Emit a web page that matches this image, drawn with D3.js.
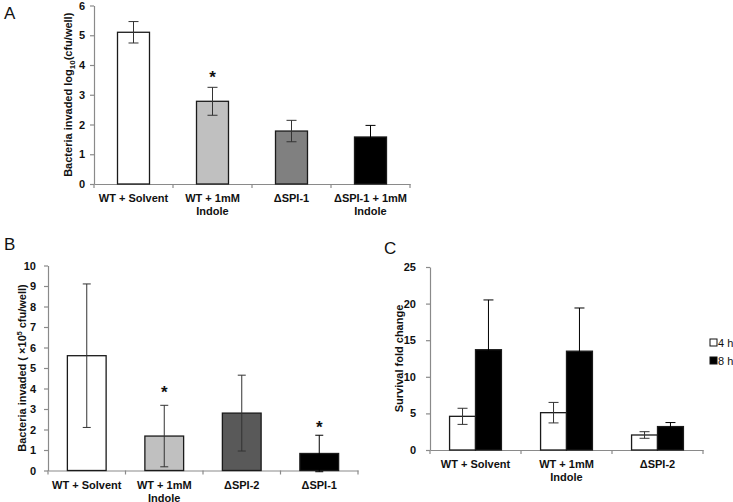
<!DOCTYPE html>
<html><head><meta charset="utf-8">
<script src="https://cdn.jsdelivr.net/npm/d3@7"></script>
<style>
html,body{margin:0;padding:0;background:#fff;}
svg{display:block;font-family:"Liberation Sans",Arial,sans-serif;}
</style></head>
<body>
<svg id="chart" width="733" height="502"></svg>
<script>
// ---- Panel A data ----
const catsA = ["WT + Solvent", "WT + 1mM\nIndole", "ΔSPI-1", "ΔSPI-1 + 1mM\nIndole"];
const valsA = [5.1, 2.78, 1.78, 1.58];
const errA = [0.36, 0.47, 0.36, 0.39];
const starA = [null, 3.4, null, null];   // height of significance asterisk
const ticksA = [0, 1, 2, 3, 4, 5, 6];

// ---- Panel B data ----
const catsB = ["WT + Solvent", "WT + 1mM\nIndole", "ΔSPI-2", "ΔSPI-1"];
const valsB = [5.6, 1.68, 2.8, 0.83];
const errB = [3.5, 1.5, 1.85, 0.89];
const starB = [null, 3.55, null, 1.85];
const ticksB = [0, 1, 2, 3, 4, 5, 6, 7, 8, 9, 10];

// ---- Panel C data ----
const catsC = ["WT + Solvent", "WT + 1mM\nIndole", "ΔSPI-2"];
const seriesC = ["4 h", "8 h"];
const vals4h = [4.6, 5.1, 2.05];
const err4h = [1.1, 1.4, 0.45];
const vals8h = [13.7, 13.5, 3.2];
const err8h = [6.8, 5.9, 0.55];
const ticksC = [0, 5, 10, 15, 20, 25];

const svg = d3.select("#chart");
const axisColor = "#8a8a8a";

function styleAxis(g) {
  g.selectAll("path.domain").attr("stroke", axisColor).attr("stroke-width", 1.2);
  g.selectAll(".tick line").attr("stroke", axisColor).attr("stroke-width", 1.2);
  g.selectAll(".tick text").attr("fill", "#111").attr("font-size", 11).attr("font-weight", "bold");
}

function panel(o) {
  const g = svg.append("g");
  const y = d3.scaleLinear().domain(o.ydom).range([o.y0, o.y1]);
  const x = d3.scaleBand().domain(o.cats).range([o.x0, o.x1]).paddingInner(o.pad).paddingOuter(o.pad / 2);

  const ya = g.append("g").attr("transform", `translate(${o.x0},0)`)
    .call(d3.axisLeft(y).tickValues(o.ticks).tickFormat(d3.format("d")).tickSize(4).tickPadding(o.tp).tickSizeOuter(0));
  styleAxis(ya);

  const xa = g.append("g").attr("transform", `translate(0,${o.y0})`)
    .call(d3.axisBottom(x).tickSize(0).tickSizeOuter(0).tickFormat(""));
  styleAxis(xa);
  const bounds = d3.range(o.cats.length + 1).map(i => o.x0 + i * x.step());
  g.selectAll("line.bt").data(bounds).join("line")
    .attr("x1", d => d).attr("x2", d => d).attr("y1", o.y0).attr("y2", o.y0 + 4)
    .attr("stroke", axisColor).attr("stroke-width", 1.2);
  o.cats.forEach(c => {
    const t = g.append("text").attr("x", x(c) + x.bandwidth() / 2).attr("y", o.y0 + 18)
      .attr("text-anchor", "middle").attr("font-size", 11).attr("font-weight", "bold").attr("fill", "#111");
    c.split("\n").forEach((ln, i) => t.append("tspan").attr("x", x(c) + x.bandwidth() / 2).attr("dy", i ? 13 : 0).text(ln));
  });

  const yl = g.append("text")
    .attr("transform", `translate(${o.ylx},${(o.y0 + o.y1) / 2}) rotate(-90)`)
    .attr("text-anchor", "middle").attr("font-size", 11).attr("font-weight", "bold").attr("fill", "#111");
  o.ylabel(yl);

  g.append("text").attr("x", o.lx).attr("y", o.ly).attr("font-size", 17).attr("fill", "#111").text(o.letter);
  return {g, x, y};
}

function errBar(g, cx, y, v, e, cap, col) {
  g.append("line").attr("x1", cx).attr("x2", cx).attr("y1", y(v - e)).attr("y2", y(v + e))
    .attr("stroke", col).attr("stroke-width", 1);
  [v - e, v + e].forEach(t => g.append("line").attr("x1", cx - cap).attr("x2", cx + cap)
    .attr("y1", y(t)).attr("y2", y(t)).attr("stroke", col).attr("stroke-width", 1));
}

function simpleBars(p, cats, vals, errs, stars, fills, cap) {
  const {g, x, y} = p;
  g.selectAll("rect.b").data(cats).join("rect")
    .attr("x", d => x(d)).attr("width", x.bandwidth())
    .attr("y", (d, i) => y(vals[i])).attr("height", (d, i) => y(0) - y(vals[i]))
    .attr("fill", (d, i) => fills[i]).attr("stroke", "#1a1a1a").attr("stroke-width", 1.3);
  cats.forEach((c, i) => {
    const cx = x(c) + x.bandwidth() / 2;
    errBar(g, cx, y, vals[i], errs[i], cap, fills[i] === "#000000" ? "#000" : "#333");
    if (stars[i] != null) g.append("text").attr("x", cx).attr("y", y(stars[i]))
      .attr("text-anchor", "middle").attr("font-size", 17).attr("font-weight", "bold").attr("fill", "#111").text("*");
  });
}

// Panel A
const pA = panel({cats: catsA, ydom: [0, 6], ticks: ticksA, x0: 94, x1: 410, y0: 184, y1: 5.5, pad: 0.595,
  tp: 5, ylx: 72, lx: 4, ly: 19, letter: "A",
  ylabel: t => { t.append("tspan").text("Bacteria invaded log");
    t.append("tspan").attr("font-size", 8).attr("dy", 3).text("10");
    t.append("tspan").attr("dy", -3).text("(cfu/well)"); }});
simpleBars(pA, catsA, valsA, errA, starA, ["#ffffff", "#c0c0c0", "#808080", "#000000"], 5);

// Panel B
const pB = panel({cats: catsB, ydom: [0, 10], ticks: ticksB, x0: 48, x1: 358, y0: 470.5, y1: 265.5, pad: 0.5,
  tp: 8, ylx: 26, lx: 4, ly: 250, letter: "B",
  ylabel: t => { t.append("tspan").text("Bacteria invaded ( ×10");
    t.append("tspan").attr("font-size", 7).attr("dy", -4).text("5");
    t.append("tspan").attr("dy", 4).text(" cfu/well)"); }});
simpleBars(pB, catsB, valsB, errB, starB, ["#ffffff", "#c0c0c0", "#595959", "#000000"], 4);

// Panel C
const pC = panel({cats: catsC, ydom: [0, 25], ticks: ticksC, x0: 430, x1: 703, y0: 450, y1: 267, pad: 0.43,
  tp: 10, ylx: 403, lx: 384, ly: 254, letter: "C",
  ylabel: t => t.text("Survival fold change")});
{
  const {g, x, y} = pC;
  const xs = d3.scaleBand().domain(seriesC).range([0, x.bandwidth()]);
  const data = [vals4h, vals8h], errs = [err4h, err8h], fills = ["#ffffff", "#000000"];
  seriesC.forEach((s, si) => {
    g.selectAll("rect.s" + si).data(catsC).join("rect")
      .attr("x", d => x(d) + xs(s)).attr("width", xs.bandwidth())
      .attr("y", (d, i) => y(data[si][i])).attr("height", (d, i) => y(0) - y(data[si][i]))
      .attr("fill", fills[si]).attr("stroke", "#1a1a1a").attr("stroke-width", 1.3);
    catsC.forEach((c, i) => errBar(g, x(c) + xs(s) + xs.bandwidth() / 2, y, data[si][i], errs[si][i], 5,
      si === 1 ? "#000" : "#333"));
  });
  seriesC.forEach((s, si) => {
    const ly = 343 + si * 18;
    g.append("rect").attr("x", 710).attr("y", ly - 4).attr("width", 7).attr("height", 7)
      .attr("fill", fills[si]).attr("stroke", "#111").attr("stroke-width", 1);
    g.append("text").attr("x", 718).attr("y", ly + 4).attr("font-size", 11).attr("fill", "#111").text(s);
  });
}
</script>
</body></html>
